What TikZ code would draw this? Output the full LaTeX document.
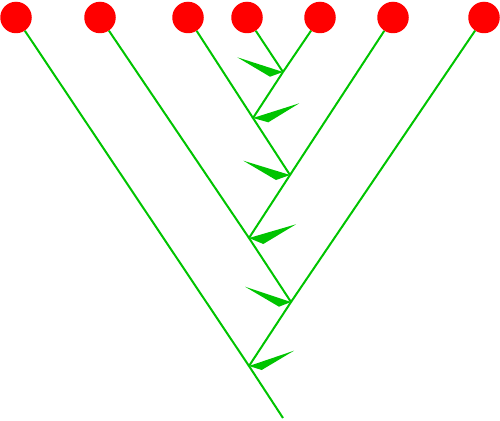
\documentclass[tikz,border=0pt]{standalone}
\definecolor{leafred}{RGB}{255,0,0}
\definecolor{branchgreen}{RGB}{0,196,0}
\begin{document}
\begin{tikzpicture}[x=1pt,y=-1pt,
  leaf/.style={circle,fill=leafred,draw=none,minimum size=31.5pt,inner sep=0pt},
  branch/.style={draw=branchgreen,line width=2pt},
  wedge/.style={fill=branchgreen,draw=none}]
\useasboundingbox (0,0) rectangle (500,420);
% leaves
\node[leaf] (L1) at (16,17.5) {};
\node[leaf] (L2) at (100,17.5) {};
\node[leaf] (L3) at (188,17.5) {};
\node[leaf] (L4) at (247,17.5) {};
\node[leaf] (L5) at (320,17.5) {};
\node[leaf] (L6) at (393,17.5) {};
\node[leaf] (L7) at (484,17.5) {};
% junctions
\coordinate (J1) at (283,72);
\coordinate (J2) at (253,118);
\coordinate (J3) at (290,175);
\coordinate (J4) at (249,238);
\coordinate (J5) at (291,302);
\coordinate (J6) at (249,366);
\coordinate (R) at (283,418);
% branches
\draw[branch] (R) -- (J6) -- (J5) -- (J4) -- (J3) -- (J2) -- (J1);
\draw[branch] (J1) -- (L4);
\draw[branch] (J1) -- (L5);
\draw[branch] (J2) -- (L3);
\draw[branch] (J3) -- (L6);
\draw[branch] (J4) -- (L2);
\draw[branch] (J5) -- (L7);
\draw[branch] (J6) -- (L1);
% wedges pointing to junctions
\coordinate (T1) at (237.3,57.3); \coordinate (C1) at (270,76.7);
\coordinate (T2) at (299.3,103.3); \coordinate (C2) at (268.3,122.3);
\coordinate (T3) at (243.3,160.7); \coordinate (C3) at (276,180);
\coordinate (T4) at (296,224.3); \coordinate (C4) at (263.3,244);
\coordinate (T5) at (245,286.7); \coordinate (C5) at (279,306.7);
\coordinate (T6) at (294,350.7); \coordinate (C6) at (261.7,370);
\foreach \i in {1,...,6}{
  \fill[wedge] (T\i) -- (J\i) -- (C\i) -- cycle;
}
\end{tikzpicture}
\end{document}
